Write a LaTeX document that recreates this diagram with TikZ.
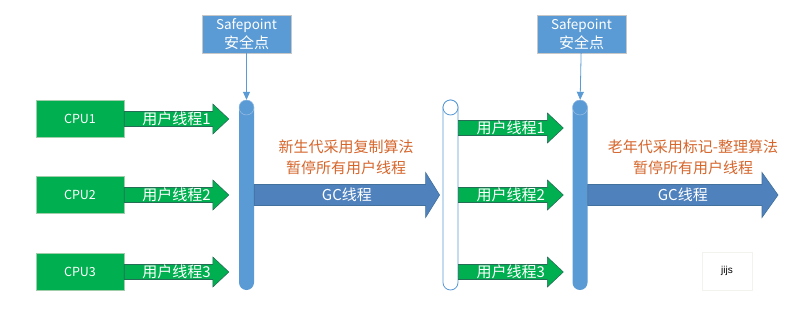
\documentclass[tikz,border=0pt]{standalone}
\usepackage{fontspec}
\newfontfamily\cjk{Noto Sans CJK SC}
\newfontfamily\arial{Liberation Sans}
\usetikzlibrary{arrows.meta,positioning,calc}
\definecolor{cpugreen}{RGB}{0,176,80}
\definecolor{cpuedge}{RGB}{160,205,170}
\definecolor{arrowedge}{RGB}{35,110,85}
\definecolor{sfblue}{RGB}{91,155,213}
\definecolor{capedge}{RGB}{165,195,232}
\definecolor{gcblue}{RGB}{79,129,189}
\definecolor{gcedge}{RGB}{65,113,156}
\definecolor{noteorange}{RGB}{214,102,44}

\begin{document}
\begin{tikzpicture}[x=1pt,y=-1pt,font=\cjk,cpu/.style={rectangle, fill=cpugreen, draw=cpuedge, minimum width=88pt, minimum height=37pt, text=white, font=\cjk\fontsize{12.5}{14}\selectfont},safebox/.style={rectangle, fill=sfblue, draw=black!22, minimum width=89pt, minimum height=38pt, inner sep=0pt, text=white, align=center, font=\cjk\fontsize{13.5}{19}\selectfont},barbody/.style={rectangle, rounded corners=7.5pt, minimum width=15pt, minimum height=190pt, inner sep=0pt},barcap/.style={circle, minimum size=15pt, inner sep=0pt},userarrow/.style={fill=cpugreen, draw=arrowedge, line width=0.6pt},gcarrow/.style={fill=gcblue, draw=gcedge, line width=0.6pt},arrowtext/.style={text=white, inner sep=0pt, font=\cjk\fontsize{15}{15}\selectfont},notetext/.style={text=noteorange, align=center, font=\cjk\fontsize{15}{21}\selectfont},spline/.style={draw=sfblue, line width=0.8pt, -{Triangle[length=8pt,width=7pt]}}]
\newcommand{\fatArrow}[8]{\path[#1] let \p1=(#2), \p2=(#3) in (\x1,\y1+#4pt) -- (\x2-#6pt,\y1+#4pt) -- (\x2-#6pt,\y1+#5pt) -- (\x2,\y1) -- (\x2-#6pt,\y1-#5pt) -- (\x2-#6pt,\y1-#4pt) -- (\x1,\y1-#4pt) -- cycle ({0.5*\x1+0.5*\x2},\y1) node[arrowtext] (#8) {#7};}
\path[fill=white] (0,0) rectangle (798,314);
% safepoints and the three bars
\node[safebox] (sp1) at (246.5,34) {Safepoint\\{\fontsize{15}{19}\selectfont 安全点}};
\node[safebox] (sp2) at (581.5,34) {Safepoint\\{\fontsize{15}{19}\selectfont 安全点}};
\node[barbody, fill=sfblue] (bar1) at (246.5,195) {};
\node[barbody, fill=white, draw=sfblue, line width=0.8pt] (barmid) at (450.5,195) {};
\node[barbody, fill=sfblue] (bar2) at (580,195) {};
\node[barcap, fill=sfblue, draw=capedge, below=0pt of bar1.north] (cap1) {};
\node[barcap, fill=white, draw=sfblue, line width=0.8pt, below=0pt of barmid.north] (capmid) {};
\node[barcap, fill=sfblue, draw=capedge, below=0pt of bar2.north] (cap2) {};
\draw[spline] (sp1) -- (cap1);
\draw[spline] (sp2) -- (cap2);
% cpus and user threads
\foreach \i/\yl/\yr in {1/119/128,2/195/195,3/272/272}{
\node[cpu] (cpu\i) at (80,\yl) {CPU\i};
\fatArrow{userarrow}{cpu\i.east}{[xshift=-10pt]bar1.west}{7.5}{15}{16}{用户线程\i}{ua\i}
\fatArrow{userarrow}{barmid.east |- 0,\yr}{[xshift=-9pt]bar2.west}{7.5}{15}{16}{用户线程\i}{ub\i}
}
% gc threads
\coordinate (gcend) at (778,195);
\fatArrow{gcarrow}{bar1.east}{[xshift=-3pt]barmid.west}{10.5}{22.5}{14}{GC线程}{gc1}
\fatArrow{gcarrow}{bar2.east}{gcend}{10.5}{22.5}{16}{GC线程}{gc2}
\node[notetext] (note1) at (346,157.5) {新生代采用复制算法\\暂停所有用户线程};
\node[notetext] (note2) at (693,157.5) {老年代采用标记-整理算法\\暂停所有用户线程};
\node[rectangle, draw=yellow!15!black!7, minimum width=50pt, minimum height=38pt, font=\arial\fontsize{10}{12}\selectfont] (mark) at (727,271) {jijs};
\end{tikzpicture}
\end{document}
